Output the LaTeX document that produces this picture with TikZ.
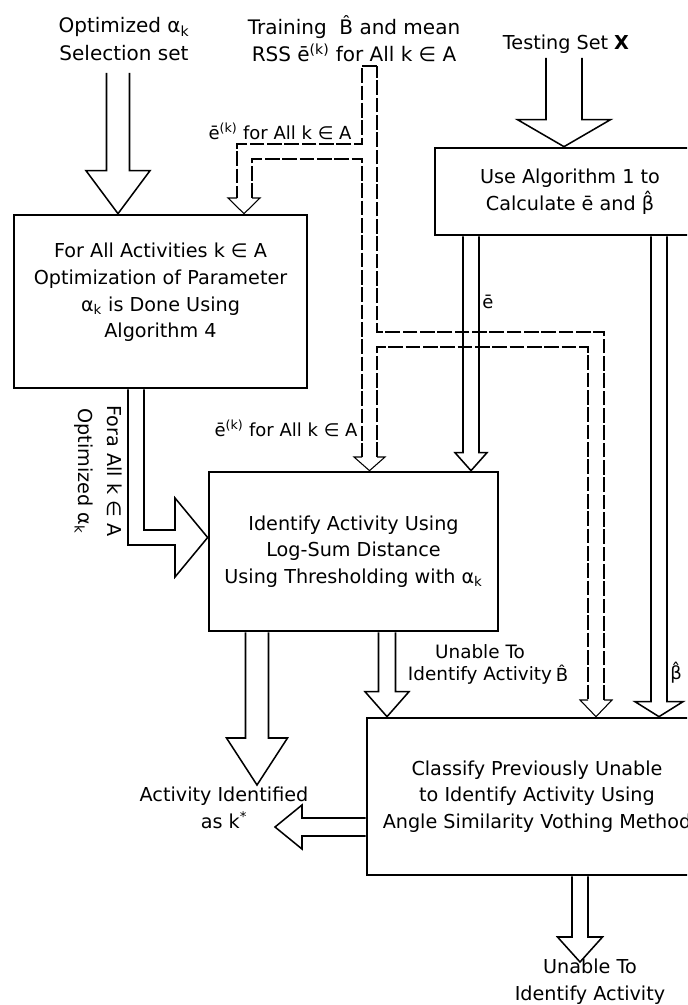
\documentclass[tikz,border=0pt]{standalone}
\usepackage{fontspec}
\setmainfont{DejaVu Sans}
\usetikzlibrary{calc}

% hollow block arrow: start, tip, shaft half-width, head half-width, head length
\newcommand\blockarrow[5]{%
  \coordinate (ba-b) at ($(#2)!#5*0.75pt!(#1)$);
  \draw[blk] ($(#1)!#3*0.75pt!90:(#2)$) -- ($(ba-b)!#3*0.75pt!-90:(#1)$)
    -- ($(ba-b)!#4*0.75pt!-90:(#1)$) -- (#2)
    -- ($(ba-b)!#4*0.75pt!90:(#1)$) -- ($(ba-b)!#3*0.75pt!90:(#1)$)
    -- ($(#1)!#3*0.75pt!-90:(#2)$);}

\begin{document}
\begin{tikzpicture}[x=0.75pt,y=-0.75pt,
  box/.style={draw,line width=2pt,inner sep=0pt,align=center,
    font=\fontsize{14.4}{20}\selectfont},
  boxtext/.style={align=center,inner sep=0pt,font=\fontsize{14.4}{20}\selectfont},
  bigtext/.style={align=center,inner sep=0pt,font=\fontsize{15}{20.5}\selectfont},
  sidetext/.style={align=center,inner sep=0pt,font=\fontsize{14.4}{22}\selectfont},
  smalltext/.style={align=center,inner sep=0pt,font=\fontsize{13.5}{16}\selectfont},
  midtext/.style={align=center,inner sep=0pt,font=\fontsize{13.8}{16.5}\selectfont},
  blk/.style={line width=1.15pt,line join=miter},
  dsh/.style={line width=0.8pt,dash pattern=on 11pt off 2pt},
  dhead/.style={line width=0.8pt,line join=miter}]

\clip (0,0) rectangle (687,1005);
\fill[white] (0,0) rectangle (687,1005);

% process boxes
\node[box,minimum width=293*0.75pt,minimum height=173*0.75pt] (b1) at (160.5,301.5) {};
\node[boxtext] (b1t) at ($(b1.center)+(0,-9)$)
  {For All Activities k ∈ A\\Optimization of Parameter\\α\textsubscript{k} is Done Using\\Algorithm 4};
\node[box,minimum width=270*0.75pt,minimum height=87*0.75pt] (b2) at (570,191.5)
  {Use Algorithm 1 to\\Calculate \=e and \^{β}};
\node[box,minimum width=289*0.75pt,minimum height=159*0.75pt] (b3) at (353.5,551.5)
  {Identify Activity Using\\Log-Sum Distance\\Using Thresholding with α\textsubscript{k}};
\node[box,minimum width=340*0.75pt,minimum height=157*0.75pt] (b4) at (537,796.5)
  {Classify Previously Unable\\to Identify Activity Using\\Angle Similarity Vothing Method};

% inputs and outputs
\node[bigtext] (sel) at (124,39) {Optimized α\textsubscript{k}\\Selection set};
\node[bigtext] (train) at (354,39) {Training \ \^{B} and mean\\RSS \=e\textsuperscript{(k)} for All k ∈ A};
\node[boxtext] (test) at (566,44) {Testing Set \textbf{X}};
\node[boxtext] (ident) at (224,808) {Activity Identified\\as k\textsuperscript{*}};
\node[boxtext] (unable) at (590,982) {Unable To\\Identify Activity};

% edge labels
\node[smalltext] (lab1) at (280,131) {\=e\textsuperscript{(k)} for All k ∈ A};
\node[smalltext] (lab2) at (286,428) {\=e\textsuperscript{(k)} for All k ∈ A};
\node[smalltext] (labe) at (488,302) {\=e};
\node[smalltext] (labB) at (562,673) {\^{B}};
\node[smalltext] (labb) at (676,673) {\^{β}};
\node[midtext] (labu) at (480,664) {Unable To\\Identify Activity};
\node[sidetext,rotate=-90] (labo) at (98,471) {Fora All k ∈ A\\Optimized α\textsubscript{k}};

% solid block arrows
\coordinate (s1) at (118,73);   \coordinate (t1) at (118,0 |- b1.north);
\blockarrow{s1}{t1}{11.5}{32}{43}
\coordinate (s2) at (564,58);   \coordinate (t2) at (564,0 |- b2.north);
\blockarrow{s2}{t2}{18}{46.5}{27}
\coordinate (s3) at (471,0 |- b2.south); \coordinate (t3) at (471,0 |- b3.north);
\blockarrow{s3}{t3}{8}{16}{18}
\coordinate (s4) at (659,0 |- b2.south); \coordinate (t4) at (659,0 |- b4.north);
\blockarrow{s4}{t4}{8}{24}{15}
\coordinate (s5) at (257,0 |- b3.south); \coordinate (t5) at (257,785);
\blockarrow{s5}{t5}{11.5}{30.5}{47}
\coordinate (s6) at (387,0 |- b3.south); \coordinate (t6) at (387,0 |- b4.north);
\blockarrow{s6}{t6}{8.5}{22}{25}
\coordinate (s7) at (b4.west |- 0,827); \coordinate (t7) at (275,827);
\blockarrow{s7}{t7}{9}{22}{27}
\coordinate (s8) at (580,0 |- b4.south); \coordinate (t8) at (580,962);
\blockarrow{s8}{t8}{8}{22.5}{25}

% elbow arrow from the optimization box into the identification box
\draw[blk] (128,0 |- b1.south) -- (128,545) -- (175,545) -- (175,577)
  -- (b3.west |- 0,537.5) -- (175,498) -- (175,530) -- (144,530) -- (144,0 |- b1.south);

% dashed branching pipe carrying the training data
\draw[dsh] (377,66) -- (362,66) -- (362,144) -- (237,144) -- (237,198);
\draw[dsh] (252,198) -- (252,159) -- (362,159) -- (362,457);
\draw[dsh] (377,457) -- (377,347) -- (588,347) -- (588,700);
\draw[dsh] (604,700) -- (604,332) -- (377,332) -- (377,66);
\draw[dhead] (237,198) -- (228,198) -- (244,0 |- b1.north) -- (260,198) -- (252,198);
\draw[dhead] (362,457) -- (354,457) -- (369.5,0 |- b3.north) -- (385,457) -- (377,457);
\draw[dhead] (588,700) -- (580,700) -- (596,0 |- b4.north) -- (612,700) -- (604,700);
\end{tikzpicture}
\end{document}
